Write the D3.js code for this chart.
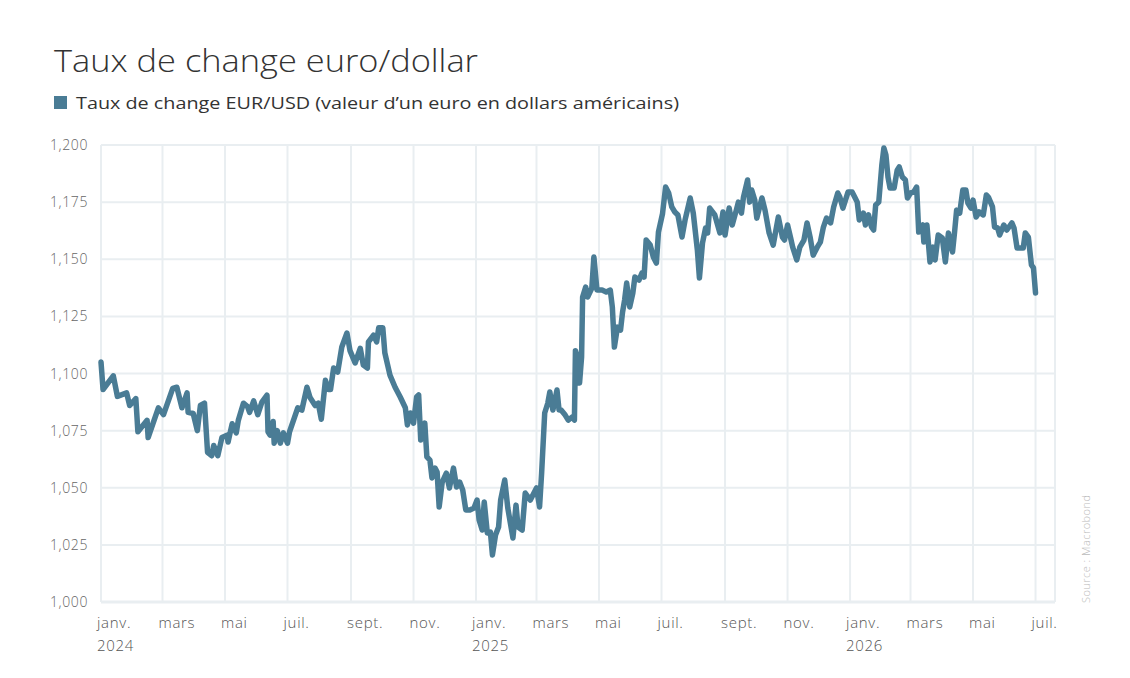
<!DOCTYPE html>
<html>
<head>
<meta charset="utf-8">
<script src="https://cdn.jsdelivr.net/npm/d3@7"></script>
<style>
	body { margin: 0; background: #fff; }
	text { font-family: "Open Sans", Lato, sans-serif; }
</style>
</head>
<body>
<svg id="chart" width="1130" height="678"></svg>
<script>
// EUR/USD
var dates = [
	"2024-01-01","2024-01-03","2024-01-13","2024-01-17","2024-01-26","2024-01-29","2024-02-04","2024-02-06",
	"2024-02-15","2024-02-16","2024-02-26","2024-03-02","2024-03-11","2024-03-15","2024-03-20","2024-03-25",
	"2024-03-26","2024-03-31","2024-04-04","2024-04-07","2024-04-11","2024-04-14","2024-04-18","2024-04-20",
	"2024-04-24","2024-04-28","2024-05-03","2024-05-04","2024-05-08","2024-05-12","2024-05-14","2024-05-19",
	"2024-05-23","2024-05-25","2024-05-29","2024-06-02","2024-06-06","2024-06-11","2024-06-12","2024-06-14",
	"2024-06-17","2024-06-18","2024-06-21","2024-06-24","2024-06-27","2024-07-01","2024-07-03","2024-07-08",
	"2024-07-11","2024-07-15","2024-07-20","2024-07-23","2024-07-28","2024-07-31","2024-08-03","2024-08-07",
	"2024-08-10","2024-08-12","2024-08-15","2024-08-19","2024-08-23","2024-08-28","2024-08-31","2024-09-05",
	"2024-09-10","2024-09-13","2024-09-17","2024-09-18","2024-09-23","2024-09-26","2024-09-28","2024-10-02",
	"2024-10-04","2024-10-09","2024-10-14","2024-10-19","2024-10-24","2024-10-26","2024-10-29","2024-11-01",
	"2024-11-04","2024-11-06","2024-11-08","2024-11-12","2024-11-14","2024-11-17","2024-11-19","2024-11-22",
	"2024-11-24","2024-11-26","2024-11-29","2024-12-03","2024-12-06","2024-12-10","2024-12-13","2024-12-16",
	"2024-12-19","2024-12-22","2024-12-26","2024-12-30","2025-01-02","2025-01-04","2025-01-07","2025-01-09",
	"2025-01-12","2025-01-15","2025-01-17","2025-01-20","2025-01-23","2025-01-25","2025-01-29","2025-02-01",
	"2025-02-06","2025-02-09","2025-02-11","2025-02-15","2025-02-18","2025-02-23","2025-03-01","2025-03-04",
	"2025-03-06","2025-03-09","2025-03-12","2025-03-14","2025-03-17","2025-03-21","2025-03-23","2025-03-25",
	"2025-03-29","2025-04-01","2025-04-05","2025-04-07","2025-04-08","2025-04-10","2025-04-12","2025-04-14",
	"2025-04-15","2025-04-18","2025-04-20","2025-04-24","2025-04-26","2025-04-29","2025-05-04","2025-05-08",
	"2025-05-12","2025-05-14","2025-05-16","2025-05-19","2025-05-22","2025-05-24","2025-05-26","2025-05-28",
	"2025-05-31","2025-06-03","2025-06-05","2025-06-09","2025-06-12","2025-06-14","2025-06-16","2025-06-20",
	"2025-06-23","2025-06-26","2025-06-28","2025-07-02","2025-07-05","2025-07-08","2025-07-11","2025-07-14",
	"2025-07-17","2025-07-21","2025-07-24","2025-07-29","2025-08-01","2025-08-05","2025-08-07","2025-08-10",
	"2025-08-13","2025-08-15","2025-08-17","2025-08-22","2025-08-27","2025-08-30","2025-09-01","2025-09-05",
	"2025-09-08","2025-09-12","2025-09-14","2025-09-17","2025-09-19","2025-09-23","2025-09-25","2025-09-27",
	"2025-09-30","2025-10-02","2025-10-07","2025-10-10","2025-10-14","2025-10-18","2025-10-23","2025-10-27",
	"2025-10-29","2025-11-01","2025-11-04","2025-11-06","2025-11-10","2025-11-13","2025-11-17","2025-11-20",
	"2025-11-23","2025-11-26","2025-11-30","2025-12-03","2025-12-06","2025-12-09","2025-12-13","2025-12-16",
	"2025-12-20","2025-12-22","2025-12-25","2025-12-30","2026-01-03","2026-01-06","2026-01-08","2026-01-10",
	"2026-01-14","2026-01-16","2026-01-19","2026-01-22","2026-01-24","2026-01-26","2026-01-29","2026-02-01",
	"2026-02-03","2026-02-05","2026-02-07","2026-02-09","2026-02-13","2026-02-16","2026-02-18","2026-02-21",
	"2026-02-24","2026-02-26","2026-03-01","2026-03-04","2026-03-07","2026-03-09","2026-03-13","2026-03-14",
	"2026-03-17","2026-03-20","2026-03-23","2026-03-25","2026-03-28","2026-04-01","2026-04-04","2026-04-07",
	"2026-04-11","2026-04-13","2026-04-15","2026-04-18","2026-04-21","2026-04-24","2026-04-26","2026-04-29",
	"2026-05-01","2026-05-04","2026-05-07","2026-05-11","2026-05-14","2026-05-16","2026-05-20","2026-05-22",
	"2026-05-25","2026-05-27","2026-05-31","2026-06-03","2026-06-08","2026-06-10","2026-06-13","2026-06-16",
	"2026-06-19","2026-06-21","2026-06-24","2026-06-27","2026-06-29","2026-07-01"
];
var eurusd = [
	1.105,1.093,1.099,1.090,1.0915,1.086,1.089,1.0745,
	1.0795,1.072,1.085,1.082,1.0935,1.094,1.085,1.0915,
	1.083,1.0825,1.075,1.086,1.087,1.0655,1.064,1.0685,
	1.064,1.072,1.073,1.070,1.078,1.074,1.0795,1.087,
	1.0855,1.083,1.088,1.082,1.0875,1.0905,1.0745,1.073,
	1.079,1.0695,1.075,1.0695,1.074,1.0695,1.0745,1.081,
	1.085,1.084,1.094,1.0895,1.086,1.087,1.080,1.097,
	1.093,1.093,1.1024,1.1006,1.1116,1.1177,1.110,1.1046,
	1.111,1.1037,1.1024,1.1138,1.1168,1.1138,1.120,1.120,
	1.109,1.0993,1.094,1.0897,1.085,1.0775,1.0827,1.0783,
	1.0897,1.0906,1.0709,1.0783,1.0635,1.0621,1.0543,1.0586,
	1.0569,1.0416,1.0525,1.0564,1.0499,1.0586,1.0503,1.0525,
	1.049,1.0403,1.0403,1.0411,1.0446,1.0359,1.0315,1.0438,
	1.0302,1.0306,1.0206,1.0293,1.0328,1.0446,1.0534,1.0411,
	1.028,1.0424,1.0328,1.0315,1.0477,1.0446,1.0499,1.0416,
	1.0564,1.0827,1.087,1.0919,1.084,1.0928,1.084,1.084,
	1.0818,1.0796,1.081,1.0796,1.110,1.1072,1.0958,1.1072,
	1.1335,1.1378,1.1335,1.1374,1.151,1.1365,1.1365,1.1357,
	1.1365,1.1291,1.1116,1.1203,1.119,1.1269,1.1322,1.1396,
	1.1291,1.1352,1.1422,1.1409,1.144,1.1422,1.1584,1.1562,
	1.151,1.1483,1.1619,1.170,1.1816,1.179,1.1729,1.1707,
	1.1694,1.1597,1.1672,1.1768,1.1702,1.154,1.1418,1.1571,
	1.1637,1.1615,1.1724,1.1694,1.1615,1.1707,1.1606,1.1724,
	1.165,1.1715,1.175,1.1702,1.1772,1.1847,1.175,1.1803,
	1.1759,1.168,1.1768,1.1715,1.1615,1.1562,1.1685,1.1597,
	1.1584,1.165,1.1593,1.1553,1.1497,1.1553,1.1584,1.1659,
	1.1597,1.1518,1.1553,1.1575,1.1641,1.168,1.1659,1.1729,
	1.179,1.1772,1.1724,1.1794,1.1794,1.1768,1.175,1.1672,
	1.1702,1.165,1.1694,1.1641,1.1628,1.1737,1.175,1.1912,
	1.1987,1.1956,1.186,1.1812,1.1812,1.189,1.1904,1.186,
	1.1847,1.1768,1.179,1.1794,1.1816,1.1619,1.165,1.1575,
	1.165,1.1488,1.1553,1.1497,1.1606,1.1593,1.1488,1.1615,
	1.1532,1.1619,1.1715,1.1702,1.1803,1.1803,1.1746,1.1724,
	1.1759,1.1685,1.1707,1.1694,1.1781,1.1772,1.1729,1.1641,
	1.1637,1.1606,1.165,1.1628,1.1659,1.1637,1.1549,1.1549,
	1.1549,1.1615,1.1597,1.1475,1.1462,1.1352
];
var yTicks = [1.000, 1.025, 1.050, 1.075, 1.100, 1.125, 1.150, 1.175, 1.200];
var monthNames = ["janv.", "févr.", "mars", "avr.", "mai", "juin", "juil.", "août", "sept.", "oct.", "nov.", "déc."];

var title = "Taux de change euro/dollar",
	seriesName = "Taux de change EUR/USD (valeur d\u2019un euro en dollars américains)",
	source = "Source : Macrobond";

var width = 1130,
	height = 678,
	margin = {top: 145, right: 75, bottom: 76, left: 101},
	lineColor = "#4a7c95",
	gridColor = "#e9eef1";

var parseDate = d3.timeParse("%Y-%m-%d");
var data = dates.map(function(d, i) {
	return {date: parseDate(d), value: eurusd[i]};
});

var svg = d3.select("#chart");

var x = d3.scaleTime()
	.domain([new Date(2024, 0, 1), new Date(2026, 6, 20)])
	.range([margin.left, width - margin.right]);

var y = d3.scaleLinear()
	.domain([1.0, 1.2])
	.range([height - margin.bottom, margin.top]);

var fmt = function(v) { return d3.format(".3f")(v).replace(".", ","); };

// grid
var grid = svg.append("g");
grid.selectAll("line.h")
	.data(yTicks)
	.enter().append("line")
	.attr("class", "h")
	.attr("x1", x.range()[0]).attr("x2", x.range()[1])
	.attr("y1", function(d) { return y(d); })
	.attr("y2", function(d) { return y(d); })
	.attr("stroke", gridColor)
	.attr("stroke-width", function(d) { return d === 1.0 ? 3 : 2; });

var monthTicks = x.ticks(d3.timeMonth.every(2));
grid.selectAll("line.v")
	.data(monthTicks.concat([x.domain()[1]]))
	.enter().append("line")
	.attr("class", "v")
	.attr("x1", function(d) { return x(d); })
	.attr("x2", function(d) { return x(d); })
	.attr("y1", y.range()[1]).attr("y2", y.range()[0])
	.attr("stroke", gridColor)
	.attr("stroke-width", 2);

// y labels
svg.append("g").selectAll("text")
	.data(yTicks)
	.enter().append("text")
	.attr("x", 88)
	.attr("y", function(d) { return y(d) + 5; })
	.attr("text-anchor", "end")
	.attr("font-size", 14)
	.attr("font-weight", 300)
	.attr("letter-spacing", 0.6)
	.attr("fill", "#666")
	.text(fmt);

// x labels
var xl = svg.append("g").selectAll("text")
	.data(monthTicks)
	.enter().append("text")
	.attr("x", function(d) { return x(d) - 4; })
	.attr("y", 628)
	.attr("font-size", 15)
	.attr("font-weight", 300)
	.attr("letter-spacing", 0.7)
	.attr("fill", "#555");
xl.append("tspan")
	.text(function(d) { return monthNames[d.getMonth()]; });
xl.filter(function(d) { return d.getMonth() === 0; })
	.append("tspan")
	.attr("x", function(d) { return x(d) - 4; })
	.attr("dy", 23)
	.text(function(d) { return d.getFullYear(); });

// line
var line = d3.line()
	.x(function(d) { return x(d.date); })
	.y(function(d) { return y(d.value); });

svg.append("path")
	.datum(data)
	.attr("d", line)
	.attr("fill", "none")
	.attr("stroke", lineColor)
	.attr("stroke-width", 5.5)
	.attr("stroke-linejoin", "round")
	.attr("stroke-linecap", "round");

// title and legend
svg.append("text")
	.attr("x", 54)
	.attr("y", 72)
	.attr("font-size", 31)
	.attr("font-weight", 300)
	.attr("fill", "#333")
	.attr("textLength", 424)
	.attr("lengthAdjust", "spacingAndGlyphs")
	.text(title);

svg.append("rect")
	.attr("x", 54).attr("y", 96)
	.attr("width", 13).attr("height", 13)
	.attr("fill", lineColor);

svg.append("text")
	.attr("x", 76)
	.attr("y", 109)
	.attr("font-size", 17)
	.attr("fill", "#333")
	.attr("textLength", 603)
	.attr("lengthAdjust", "spacingAndGlyphs")
	.text(seriesName);

svg.append("text")
	.attr("transform", "translate(1090,603) rotate(-90)")
	.attr("font-size", 11)
	.attr("font-weight", 300)
	.attr("fill", "#bbb")
	.attr("textLength", 108)
	.text(source);
</script>
</body>
</html>
